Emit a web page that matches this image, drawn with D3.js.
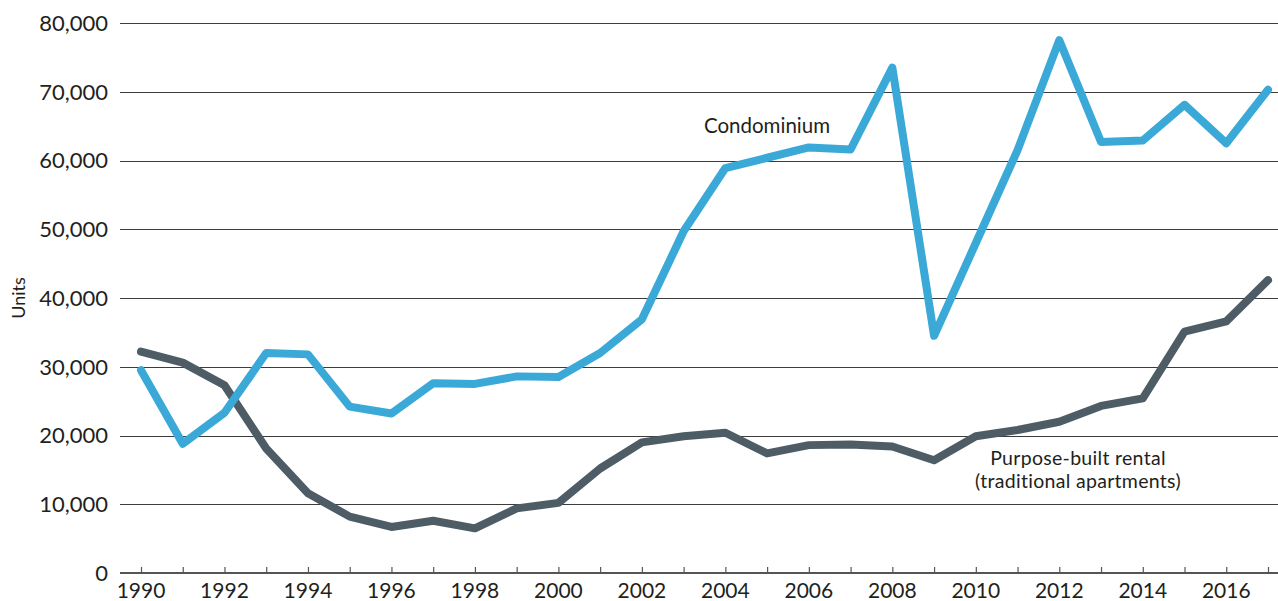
<!DOCTYPE html>
<html>
<head>
<meta charset="utf-8">
<script src="https://cdn.jsdelivr.net/npm/d3@7"></script>
<style>
  html, body { margin: 0; padding: 0; background: #ffffff; }
  svg { display: block; }
  text { font-family: Lato, "Open Sans", sans-serif; fill: #231f20; }
</style>
</head>
<body>
<svg id="chart" width="1278" height="601"></svg>
<script>
// Housing starts by type, units per year
const years = [1990, 1991, 1992, 1993, 1994, 1995, 1996, 1997, 1998, 1999,
               2000, 2001, 2002, 2003, 2004, 2005, 2006, 2007, 2008, 2009,
               2010, 2011, 2012, 2013, 2014, 2015, 2016, 2017];

const condominium = [29500, 18800, 23300, 32000, 31800, 24200, 23200, 27600, 27500, 28600,
                     28500, 32000, 36900, 49700, 58900, 60400, 61900, 61600, 73500, 34500,
                     48000, 61500, 77500, 62700, 62900, 68100, 62500, 70300];

const rental = [32200, 30600, 27300, 18100, 11600, 8200, 6700, 7600, 6500, 9400,
                10200, 15200, 19000, 19900, 20400, 17400, 18600, 18700, 18400, 16400,
                19900, 20800, 22000, 24300, 25400, 35100, 36600, 42600];

const yTicks = [0, 10000, 20000, 30000, 40000, 50000, 60000, 70000, 80000];
const xLabelYears = [1990, 1992, 1994, 1996, 1998, 2000, 2002, 2004, 2006, 2008, 2010, 2012, 2014, 2016];

const svg = d3.select("#chart");

const x = d3.scaleLinear().domain([1990, 2017]).range([141, 1268]);
const y = d3.scaleLinear().domain([0, 80000]).range([573, 23]);

const axisLeft = 120, axisRight = 1278;

// horizontal gridlines
svg.append("g")
  .selectAll("line")
  .data(yTicks.filter(d => d > 0))
  .join("line")
  .attr("x1", axisLeft).attr("x2", axisRight)
  .attr("y1", d => Math.round(y(d)) + 0.5).attr("y2", d => Math.round(y(d)) + 0.5)
  .attr("stroke", "#3c3c3c").attr("stroke-width", 1.1);

// y tick labels
const fmt = d3.format(",");
svg.append("g")
  .selectAll("text")
  .data(yTicks)
  .join("text")
  .attr("x", 108)
  .attr("y", d => y(d))
  .attr("dy", "0.36em")
  .attr("text-anchor", "end")
  .attr("font-size", 22)
  .text(d => fmt(d));

// y axis title
svg.append("text")
  .attr("transform", `translate(25,${y(40000)}) rotate(-90)`)
  .attr("text-anchor", "middle")
  .attr("font-size", 18)
  .text("Units");

// x axis: baseline and yearly ticks pointing up
const xAxis = d3.axisTop(x)
  .tickValues(years)
  .tickSize(6)
  .tickFormat("");
const gx = svg.append("g").attr("transform", `translate(0,${y(0)})`).call(xAxis);
gx.select(".domain").remove();
gx.selectAll(".tick line").attr("stroke", "#555").attr("stroke-width", 1.2);
svg.append("line")
  .attr("x1", axisLeft).attr("x2", axisRight)
  .attr("y1", y(0)).attr("y2", y(0))
  .attr("stroke", "#555").attr("stroke-width", 2);

svg.append("g")
  .selectAll("text")
  .data(xLabelYears)
  .join("text")
  .attr("x", d => x(d))
  .attr("y", 598)
  .attr("text-anchor", "middle")
  .attr("font-size", 21)
  .text(d => d);

// series lines
const line = d3.line()
  .x((d, i) => x(years[i]))
  .y(d => y(d));

svg.append("path")
  .datum(rental)
  .attr("d", line)
  .attr("fill", "none")
  .attr("stroke", "#4e5c65")
  .attr("stroke-width", 8)
  .attr("stroke-linejoin", "round")
  .attr("stroke-linecap", "round");

svg.append("path")
  .datum(condominium)
  .attr("d", line)
  .attr("fill", "none")
  .attr("stroke", "#3aa9d7")
  .attr("stroke-width", 8)
  .attr("stroke-linejoin", "round")
  .attr("stroke-linecap", "round");

// series labels
svg.append("text")
  .attr("x", 767).attr("y", 133)
  .attr("text-anchor", "middle")
  .attr("font-size", 20.5)
  .text("Condominium");

svg.append("text")
  .attr("x", 1078).attr("y", 465)
  .attr("text-anchor", "middle")
  .attr("font-size", 19.5)
  .attr("letter-spacing", 0.3)
  .text("Purpose-built rental");
svg.append("text")
  .attr("x", 1078).attr("y", 488)
  .attr("text-anchor", "middle")
  .attr("font-size", 19.5)
  .attr("letter-spacing", 0.3)
  .text("(traditional apartments)");
</script>
</body>
</html>
